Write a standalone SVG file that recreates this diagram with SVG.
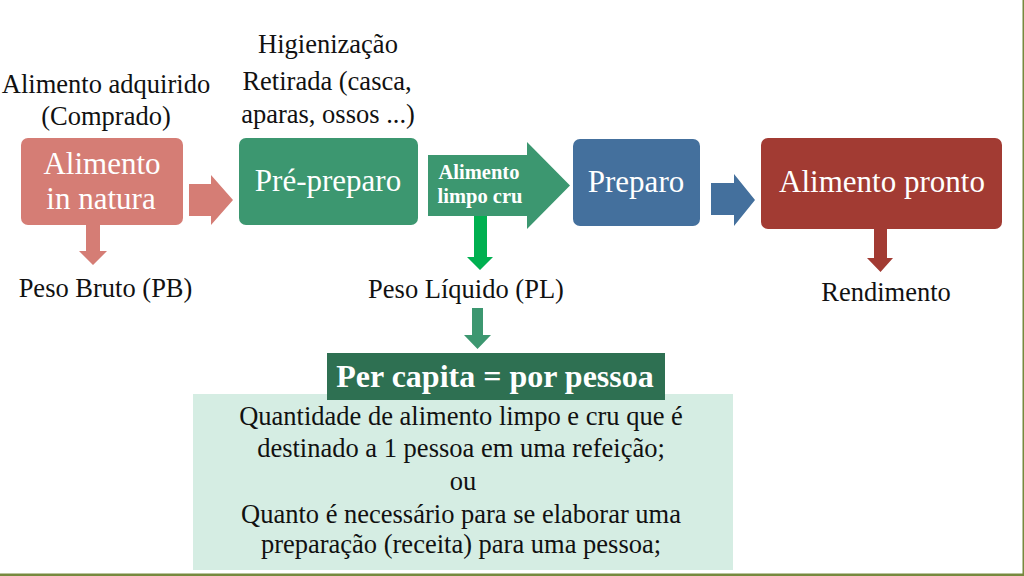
<svg xmlns="http://www.w3.org/2000/svg" width="1024" height="576" viewBox="0 0 1024 576">
<style>
text{text-anchor:middle}
.lbl{font-size:26.5px;fill:#111}
.box{font-size:31px;fill:#fff}
.small{font-size:20.5px;font-weight:bold;fill:#fff}
.body{font-size:26.5px;fill:#111}
.head{font-size:32px;font-weight:bold;fill:#fff}
</style>
<rect width="1024" height="576" fill="#fff"/>
<rect x="0" y="573.5" width="1024" height="2.5" fill="#76893e"/>
<rect x="1022.5" y="0" width="1.5" height="576" fill="#76893e"/>
<g font-family="Liberation Serif, DejaVu Serif, Noto Serif, serif">
<g id="connectors">
<polygon points="189,184 211,184 211,175 233,200 211,225 211,216 189,216" fill="#d57d75"/>
<polygon points="86,225 100,225 100,251 107,251 93,265 79,251 86,251" fill="#d57d75"/>
<polygon points="474,216 487,216 487,257 493,257 480,270 467,257 474,257" fill="#00b050"/>
<polygon points="711,183 734,183 734,174 755,200 734,226 734,215 711,215" fill="#44709d"/>
<polygon points="874,229 887,229 887,258 893,258 880.5,272 867,258 874,258" fill="#a23b33"/>
<polygon points="472,308 483,308 483,335 491,335 477.5,349 464,335 472,335" fill="#3c9770"/>
</g>

<g id="label-adquirido">
<text class="lbl" x="106" y="93">Alimento adquirido</text>
<text class="lbl" x="106" y="125">(Comprado)</text>
</g>
<g id="label-higienizacao">
<text class="lbl" x="328" y="53">Higienização</text>
<text class="lbl" x="327" y="90">Retirada (casca,</text>
<text class="lbl" x="328" y="123">aparas, ossos ...)</text>
</g>

<g id="node-in-natura">
<rect x="21" y="138" width="162" height="87" rx="7" fill="#d57d75"/>
<text class="box" x="102" y="174">Alimento</text>
<text class="box" x="101" y="209">in natura</text>
</g>
<g id="node-pre-preparo">
<rect x="239" y="138" width="179" height="87" rx="7" fill="#3c9770"/>
<text class="box" x="328" y="191">Pré-preparo</text>
</g>
<g id="node-limpo-cru">
<polygon points="428,155 527,155 527,142 570,185.5 527,229 527,216 428,216" fill="#3c9770"/>
<text class="small" x="479" y="179">Alimento</text>
<text class="small" x="480" y="203">limpo cru</text>
</g>
<g id="node-preparo">
<rect x="573" y="139" width="127" height="87" rx="7" fill="#44709d"/>
<text class="box" x="636" y="192">Preparo</text>
</g>
<g id="node-pronto">
<rect x="761" y="138" width="241" height="91" rx="7" fill="#a23b33"/>
<text class="box" x="882" y="192">Alimento pronto</text>
</g>

<g id="label-pb"><text class="lbl" x="105.5" y="297">Peso Bruto (PB)</text></g>
<g id="label-pl"><text class="lbl" x="466" y="298">Peso Líquido (PL)</text></g>
<g id="label-rendimento"><text class="lbl" x="886" y="301">Rendimento</text></g>

<g id="node-definicao">
<rect x="193" y="394" width="540" height="176" fill="#d5ede3"/>
<text class="body" x="461" y="425">Quantidade de alimento limpo e cru que é</text>
<text class="body" x="461" y="457">destinado a 1 pessoa em uma refeição;</text>
<text class="body" x="463" y="490">ou</text>
<text class="body" x="461" y="523">Quanto é necessário para se elaborar uma</text>
<text class="body" x="461" y="553">preparação (receita) para uma pessoa;</text>
</g>
<g id="node-per-capita">
<rect x="327" y="353" width="338" height="47" fill="#2e7052"/>
<text class="head" x="495" y="387">Per capita = por pessoa</text>
</g>
</g>
</svg>
